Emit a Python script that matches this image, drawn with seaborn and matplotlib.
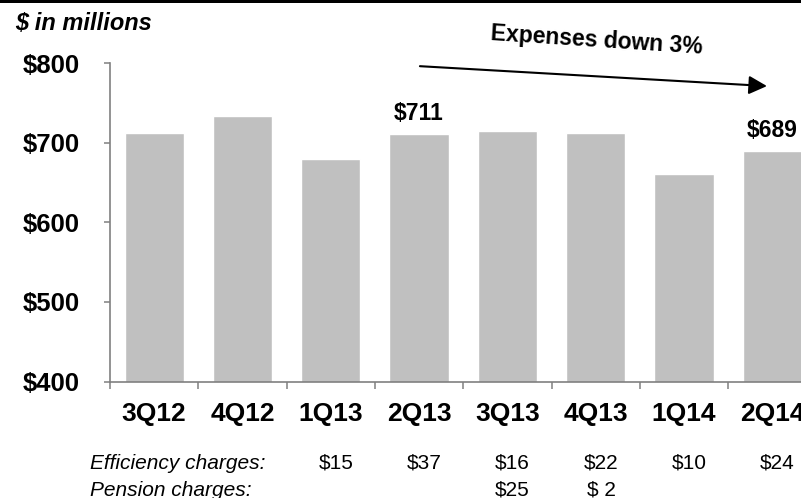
import matplotlib
matplotlib.use("Agg")
import matplotlib.pyplot as plt
from matplotlib.patches import Rectangle
from matplotlib.ticker import FixedLocator
import seaborn as sns
import pandas as pd

# Quarterly expenses ($ millions)
quarters = ["3Q12", "4Q12", "1Q13", "2Q13", "3Q13", "4Q13", "1Q14", "2Q14"]
expenses = [712, 733, 680, 711, 715, 712, 661, 689]
labeled_quarters = ["2Q13", "2Q14"]

# Charges shown beneath the axis
efficiency_charges = ["", "", "$15", "$37", "$16", "$22", "$10", "$24"]
pension_charges = ["", "", "", "", "$25", "$ 2", "", ""]

y_ticks = [400, 500, 600, 700, 800]
y_tick_labels = ["$400", "$500", "$600", "$700", "$800"]

sns.set_style("white")
plt.rcParams["font.family"] = ["Liberation Sans", "DejaVu Sans"]
plt.rcParams["text.color"] = "black"
plt.rcParams["xtick.labelcolor"] = "black"
plt.rcParams["ytick.labelcolor"] = "black"

W, H = 801, 498
fig = plt.figure(figsize=(W / 100, H / 100), dpi=100)
ax = fig.add_axes([110 / W, 1 - 381.5 / H, 706.4 / W, 318.5 / H])

df = pd.DataFrame({"quarter": quarters, "expense": expenses})
sns.barplot(data=df, x="quarter", y="expense", color="#C0C0C0",
            saturation=1, width=0.67, ax=ax)

ax.set_xlim(-0.5, len(quarters) - 0.5)
ax.set_ylim(400, 800)
ax.set_xlabel("")
ax.set_ylabel("")

grey = "#808080"
for side in ["top", "right"]:
    ax.spines[side].set_visible(False)
for side in ["left", "bottom"]:
    ax.spines[side].set_color(grey)
    ax.spines[side].set_linewidth(1.2)

ax.set_yticks(y_ticks)
ax.set_yticklabels(y_tick_labels, fontsize=18.5, fontweight="bold", color="black")
ax.tick_params(axis="y", direction="out", length=4.5, width=1.1,
               color=grey, pad=17, left=True)

ax.set_xticks(range(len(quarters)))
ax.set_xticklabels(quarters, fontsize=19, fontweight="bold", color="black")
ax.tick_params(axis="x", which="major", length=0, pad=14.5)
ax.xaxis.set_minor_locator(FixedLocator([i - 0.5 for i in range(len(quarters) + 1)]))
ax.tick_params(axis="x", which="minor", direction="out", length=5,
               width=1.1, color=grey, bottom=True)

# Value callouts
for i, (q, v) in enumerate(zip(quarters, expenses)):
    if q in labeled_quarters:
        ax.annotate(f"${v}", (i, v), xytext=(0, 15), textcoords="offset points",
                    ha="center", va="center", fontsize=16.5, fontweight="bold",
                    annotation_clip=False)

# Trend arrow
ax.annotate("", xy=(6.94, 771), xytext=(3.01, 796),
            arrowprops=dict(arrowstyle="-|>,head_length=0.55,head_width=0.28",
                            mutation_scale=20, lw=1.5, color="black",
                            shrinkA=0, shrinkB=0),
            annotation_clip=False)
fig.text(597 / W, 1 - 40 / H, "Expenses down 3%", fontsize=16.5, fontweight="bold",
         rotation=-3.7, rotation_mode="anchor", ha="center", va="center")

# Unit note and top rule
fig.text(15 / W, 1 - 23 / H, "$ in millions", fontsize=17, fontweight="bold",
         style="italic", ha="left", va="center")
fig.add_artist(Rectangle((0, 1 - 3.4 / H), 1, 3.4 / H, transform=fig.transFigure,
                         color="black", lw=0))

# Charges table
row_y = [1 - 463 / H, 1 - 490 / H]
fig.text(90 / W, row_y[0], "Efficiency charges:", fontsize=15, style="italic",
         ha="left", va="center")
fig.text(90 / W, row_y[1], "Pension charges:", fontsize=15, style="italic",
         ha="left", va="center")
blend = matplotlib.transforms.blended_transform_factory(ax.transData, fig.transFigure)
for i in range(len(quarters)):
    for labels, yy in ((efficiency_charges, row_y[0]), (pension_charges, row_y[1])):
        if labels[i]:
            fig.text(i + 0.06, yy, labels[i], fontsize=15, ha="center", va="center",
                     transform=blend)

fig.savefig("out.png", dpi=100)
